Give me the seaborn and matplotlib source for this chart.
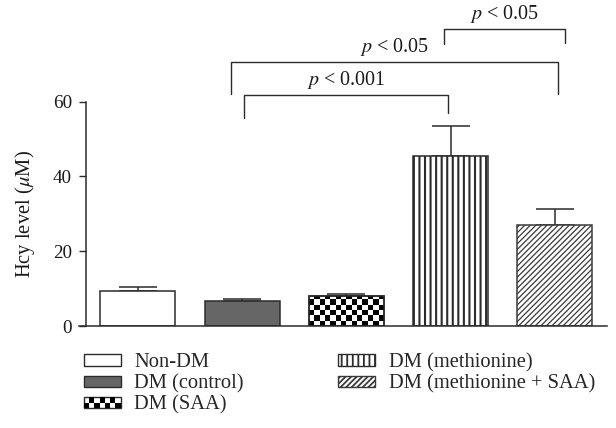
"""
Hcy level per group - bar chart with significance brackets
"""

import numpy as np
import matplotlib
matplotlib.use('Agg')
import matplotlib.pyplot as plt
import seaborn as sns
import pandas as pd
from matplotlib.patches import Rectangle, Patch
from matplotlib.legend_handler import HandlerBase

# --- datos ---
grupos = ['Non-DM', 'DM (control)', 'DM (SAA)', 'DM (methionine)', 'DM (methionine + SAA)']
hcy_media = [9.4, 6.6, 7.9, 45.5, 26.9]
hcy_sd = [1.1, 0.5, 0.7, 8.0, 4.4]
y_ticks = [0, 20, 40, 60]

# brackets: x izq, x der, altura, caida izq, caida der, etiqueta
br_x1 = [1.02, 0.89, 2.935]
br_x2 = [2.975, 4.03, 4.10]
br_y = [61.8, 70.5, 79.4]
br_y1 = [55.6, 62.0, 75.4]
br_y2 = [56.9, 62.0, 75.8]
br_txt = ['$p$ < 0.001', '$p$ < 0.05', '$p$ < 0.05']

sns.set_theme(style='ticks')
plt.rcParams['font.family'] = ['Liberation Serif', 'DejaVu Serif']
plt.rcParams['mathtext.fontset'] = 'stix'
plt.rcParams['hatch.linewidth'] = 1.3

EDGE = '#2b2b2b'
BAR_W = 0.72
YMAX = 87.2
AX_POS = [0.1391, 0.2383, 0.8463, 0.7617]

fig = plt.figure(figsize=(6.16, 4.28), dpi=100)
ax = fig.add_axes(AX_POS)

df = pd.DataFrame({'grupo': grupos, 'hcy': hcy_media})
sns.barplot(data=df, x='grupo', y='hcy', ax=ax, errorbar=None, width=BAR_W,
            color='white', edgecolor=EDGE, linewidth=1.1, zorder=2)

bars = ax.patches[:len(grupos)]
rellenos = ['white', '#666666', 'white', 'white', 'white']
hatches = [None, None, None, '|||', '//////']
for b, fc, h in zip(bars, rellenos, hatches):
    b.set_facecolor(fc)
    if h:
        b.set_hatch(h)
bars[4].set_edgecolor('#3a3a3a')
if hasattr(bars[4], 'set_hatch_linewidth'):
    bars[4].set_hatch_linewidth(0.9)
    bars[3].set_hatch_linewidth(1.5)

# barras de error (solo hacia arriba)
x_pos = np.arange(len(grupos))
ax.errorbar(x_pos, hcy_media, yerr=[np.zeros(len(hcy_sd)), hcy_sd], fmt='none',
            ecolor=EDGE, elinewidth=1.1, capsize=13.5, capthick=1.1, zorder=1)

ax.set_xlim(-0.5, 4.5)
ax.set_ylim(0, YMAX)

# cuadriculado para DM (SAA)
px_x = AX_POS[2] * 616 / 5.0
px_y = AX_POS[3] * 428 / YMAX
b3 = bars[2]
nx = 14
dx = b3.get_width() / nx
dy = dx * px_x / px_y
x0 = b3.get_x()
ny = int(np.ceil(b3.get_height() / dy))
for i in range(nx):
    for j in range(ny):
        if (i + j) % 2 == 0:
            sq = Rectangle((x0 + i * dx, j * dy), dx, dy, facecolor='black',
                           edgecolor='none', zorder=2.5)
            ax.add_patch(sq)
            sq.set_clip_path(b3)
marco = Rectangle((b3.get_x(), 0), b3.get_width(), b3.get_height(), facecolor='none',
                  edgecolor=EDGE, linewidth=1.1, zorder=3)
ax.add_patch(marco)

# brackets de significancia
for x1, x2, y, y1, y2, t in zip(br_x1, br_x2, br_y, br_y1, br_y2, br_txt):
    ax.plot([x1, x1, x2, x2], [y1, y, y, y2], color=EDGE, lw=1.0, clip_on=False)
    ax.text((x1 + x2) / 2, y + 4.0, t, ha='center', va='center', fontsize=14.4,
            color='#1a1a1a')

ax.set_yticks(y_ticks)
ax.tick_params(axis='y', labelsize=13.8, length=5, width=1.0, color=EDGE, pad=5,
               labelcolor='#1a1a1a')
ax.tick_params(axis='x', bottom=False, labelbottom=False)
ax.set_xlabel('')
ax.set_ylabel('Hcy level ($\\mu$M)', fontsize=14.8, color='#1a1a1a')
ax.yaxis.set_label_coords(-0.094, 30 / YMAX)

sns.despine(ax=ax)
ax.spines['left'].set_bounds(0, 60)
ax.spines['bottom'].set_bounds(-0.56, 4.5)
for s in ['left', 'bottom']:
    ax.spines[s].set_color(EDGE)
    ax.spines[s].set_linewidth(1.1)


# leyenda con handle cuadriculado
class HandlerCuadros(HandlerBase):
    def create_artists(self, legend, orig_handle, xdescent, ydescent, width, height,
                       fontsize, trans):
        arts = [Rectangle((-xdescent, -ydescent), width, height, facecolor='white',
                          edgecolor=EDGE, linewidth=1.0, transform=trans)]
        nc, nr = 7, 2
        w, h = width / nc, height / nr
        for i in range(nc):
            for j in range(nr):
                if (i + j) % 2 == 0:
                    arts.append(Rectangle((-xdescent + i * w, -ydescent + j * h), w, h,
                                          facecolor='black', edgecolor='none',
                                          transform=trans))
        return arts


class Cuadros:
    pass


handles = [Patch(facecolor='white', edgecolor=EDGE, linewidth=1.0),
           Patch(facecolor='#666666', edgecolor=EDGE, linewidth=1.0),
           Cuadros(),
           Patch(facecolor='white', edgecolor=EDGE, linewidth=1.0, hatch='|||'),
           Patch(facecolor='white', edgecolor='#3a3a3a', linewidth=1.0, hatch='//////')]

fig.legend(handles, grupos, handler_map={Cuadros: HandlerCuadros()},
           loc='upper left', bbox_to_anchor=(0.136, 0.175), ncol=2, frameon=False,
           fontsize=14.8, handlelength=1.8, handleheight=0.49, handletextpad=0.65,
           labelspacing=0.1, columnspacing=4.6, borderpad=0, borderaxespad=0)

fig.savefig('out.png', dpi=100)
